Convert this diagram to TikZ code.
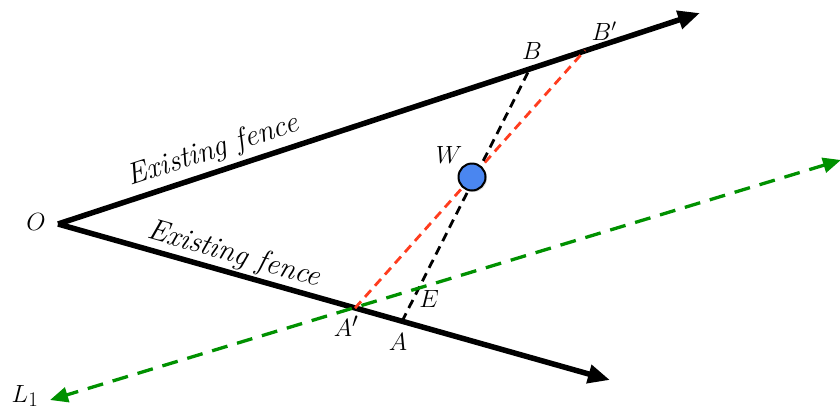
\documentclass[tikz,border=0pt]{standalone}
\usetikzlibrary{arrows.meta,shadows}
\definecolor{wblue}{RGB}{74,134,240}
\definecolor{fgreen}{RGB}{0,145,0}
\definecolor{fred}{RGB}{255,60,30}
\tikzset{
  fence/.style={line width=5.5pt,-{Triangle[length=22pt,width=18pt]}},
  gline/.style={fgreen,line width=3.3pt,dash pattern=on 16pt off 10pt,{Triangle[length=18pt,width=15pt]}-{Triangle[length=18pt,width=15pt]}},
  bline/.style={black,line width=2.8pt,dash pattern=on 9pt off 6pt},
  rline/.style={fred,line width=2.8pt,dash pattern=on 9pt off 6pt},
  lbl/.style={inner sep=0pt,font=\fontsize{26}{30}\selectfont},
  midlbl/.style={inner sep=0pt,font=\fontsize{28}{32}\selectfont},
  biglbl/.style={inner sep=0pt,font=\fontsize{31}{35}\selectfont},
  fencelbl/.style={inner sep=0pt,font=\fontsize{30}{34}\selectfont\itshape}
}
\begin{document}
\begin{tikzpicture}[x=1pt,y=-1pt]
\useasboundingbox (0,0) rectangle (840,413);
\coordinate (O) at (58,224);
\coordinate (Tu) at (700,13);
\coordinate (Tl) at (610,380);
\coordinate (B) at (530,68.4);
\coordinate (Bp) at (585,50.2);
\coordinate (A) at (402,321.4);
\coordinate (Ap) at (355,308.1);
\coordinate (G1) at (50,400);
\coordinate (G2) at (841,160);
% fences
\draw[fence] (O) -- (Tu);
\draw[fence] (O) -- (Tl);
% dashed lines
\draw[rline] (Ap) -- (Bp);
\draw[bline] (A) -- (B);
\draw[gline] (G2) -- (G1);
% well
\node[circle,draw=black,line width=2pt,fill=wblue,minimum size=27pt,inner sep=0pt,
      drop shadow={opacity=0.25,shadow xshift=1.5pt,shadow yshift=-1.5pt}] (W) at (472,177) {};
% labels
\node[biglbl] (lO) at (36,222) {$O$};
\node[lbl] (lB) at (532,51) {$B$};
\node[lbl] (lBp) at (604,31) {$B'$};
\node[lbl] (lW) at (449,155) {$W$};
\node[midlbl] (lAp) at (346,326) {$A'$};
\node[midlbl] (lA) at (398,342) {$A$};
\node[midlbl] (lE) at (429,299) {$E$};
\node[biglbl] (lL) at (25,396) {$L_1$};
\node[fencelbl,rotate=18.2] (f1) at (213,151) {Existing fence};
\node[fencelbl,rotate=-15.8] (f2) at (234,255) {Existing fence};
\end{tikzpicture}
\end{document}
